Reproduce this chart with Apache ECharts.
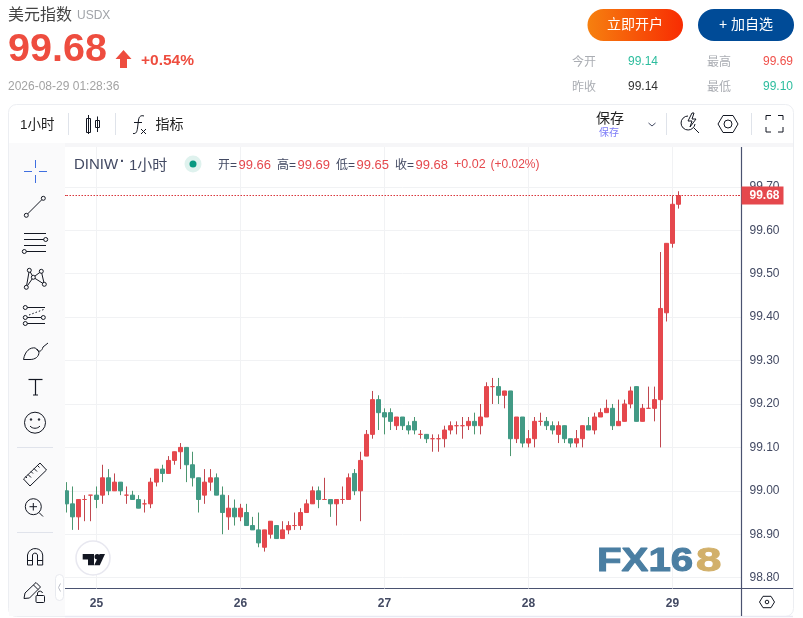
<!DOCTYPE html>
<html><head><meta charset="utf-8"><title>美元指数</title>
<style>html,body{margin:0;padding:0;background:#fff}#c{width:803px;height:618px}</style>
<script src="https://cdn.jsdelivr.net/npm/echarts@6/dist/echarts.min.js"></script></head>
<body><div id="c"></div>
<script>
const opens=[99.00,98.97,98.94,98.98,98.99,98.99,98.99,99.03,99.00,99.02,98.99,98.99,98.98,98.97,98.97,99.02,99.05,99.04,99.07,99.09,99.10,99.06,99.03,98.99,99.02,99.03,98.99,98.94,98.96,98.94,98.95,98.92,98.91,98.87,98.90,98.92,98.89,98.91,98.92,98.92,98.95,98.97,99.00,98.98,98.98,98.97,98.98,98.98,99.04,99.00,99.08,99.13,99.21,99.18,99.18,99.15,99.17,99.15,99.16,99.13,99.13,99.12,99.12,99.12,99.14,99.15,99.15,99.15,99.16,99.15,99.17,99.24,99.24,99.22,99.23,99.12,99.17,99.11,99.12,99.16,99.16,99.15,99.13,99.15,99.12,99.11,99.12,99.15,99.14,99.17,99.18,99.19,99.15,99.16,99.20,99.24,99.16,99.19,99.19,99.21,99.41,99.57,99.66];
const closes=[98.97,98.94,98.98,98.98,98.99,98.98,99.03,99.00,99.02,99.00,98.99,98.98,98.96,98.97,99.02,99.05,99.04,99.07,99.09,99.10,99.06,99.03,98.98,99.02,99.03,98.99,98.95,98.96,98.94,98.96,98.92,98.91,98.88,98.91,98.93,98.89,98.91,98.92,98.92,98.95,98.97,99.00,98.98,98.98,98.97,98.98,98.98,99.03,99.00,99.07,99.13,99.21,99.18,99.17,99.16,99.17,99.15,99.14,99.14,99.13,99.12,99.12,99.12,99.14,99.15,99.15,99.15,99.16,99.15,99.17,99.24,99.24,99.22,99.23,99.12,99.17,99.11,99.12,99.16,99.16,99.15,99.14,99.15,99.12,99.11,99.12,99.15,99.14,99.17,99.18,99.19,99.15,99.16,99.20,99.23,99.16,99.19,99.19,99.21,99.42,99.57,99.66,99.68];
const lows=[98.95,98.91,98.91,98.93,98.93,98.96,98.97,98.99,99.00,98.99,98.97,98.98,98.96,98.95,98.96,99.01,99.02,99.04,99.06,99.05,99.02,99.01,98.95,98.97,99.00,98.99,98.90,98.91,98.92,98.93,98.92,98.91,98.87,98.86,98.89,98.89,98.89,98.90,98.91,98.91,98.95,98.97,98.96,98.98,98.94,98.92,98.97,98.98,98.99,98.93,99.08,99.12,99.14,99.13,99.14,99.14,99.14,99.13,99.13,99.12,99.11,99.09,99.09,99.10,99.13,99.13,99.12,99.14,99.13,99.13,99.17,99.20,99.20,99.19,99.08,99.11,99.10,99.10,99.10,99.15,99.14,99.13,99.11,99.11,99.10,99.10,99.10,99.14,99.13,99.17,99.18,99.14,99.15,99.16,99.19,99.16,99.16,99.19,99.16,99.10,99.39,99.56,99.65];
const highs=[99.02,99.01,98.98,98.99,98.99,99.01,99.06,99.05,99.04,99.02,99.01,99.00,98.99,98.98,99.03,99.05,99.06,99.08,99.09,99.11,99.10,99.09,99.03,99.05,99.05,99.04,99.01,98.99,98.98,98.97,98.97,98.94,98.95,98.91,98.93,98.92,98.93,98.93,98.95,98.96,98.98,99.01,99.01,99.03,98.98,98.98,99.01,99.04,99.05,99.09,99.14,99.23,99.22,99.19,99.19,99.17,99.17,99.16,99.17,99.14,99.13,99.13,99.13,99.15,99.16,99.16,99.17,99.17,99.18,99.20,99.25,99.26,99.26,99.23,99.23,99.17,99.17,99.14,99.17,99.18,99.17,99.16,99.16,99.15,99.12,99.14,99.15,99.17,99.18,99.19,99.21,99.20,99.21,99.21,99.24,99.24,99.20,99.24,99.24,99.55,99.57,99.68,99.69];
const dayLabels=['25','26','27','28','29'];
const dayIndexes=[5,29,53,77,101];
const priceTicks=[98.8,98.9,99.0,99.1,99.2,99.3,99.4,99.5,99.6,99.7];
const lastPrice=99.68;
const categories=Array.from({length:113},(_,i)=>'bar'+i);

const RED='#e5484d',RED_W='#c0474f',GREEN='#429a85',GREEN_W='#4c9670',INK='#131722',SLATE='#434a63',GRID='#f1f2f4';
const LAT='"Liberation Sans","Noto Sans CJK SC",sans-serif';
const Z=20;
const T=(x,y,text,size,fill,o={})=>({type:'text',z:o.z||Z,x,y,silent:true,scaleX:o.sx||1,style:{text,fill,font:`${o.weight||'normal'} ${size}px ${LAT}`,textAlign:o.align||'left',textVerticalAlign:'middle',shadowColor:o.sh,shadowBlur:o.shb||0,shadowOffsetX:o.sho||0,shadowOffsetY:o.sho||0,stroke:o.stroke,lineWidth:o.lw||0}});
const L=(x1,y1,x2,y2,stroke=INK,w=1,o={})=>({type:'line',z:o.z||Z,silent:true,shape:{x1,y1,x2,y2},style:{stroke,lineWidth:w,lineDash:o.dash,lineCap:o.cap||'butt'}});
const C=(cx,cy,r,fill='#fafafb',stroke=INK,w=1)=>({type:'circle',z:Z,silent:true,shape:{cx,cy,r},style:{fill,stroke,lineWidth:w}});
const R=(x,y,w,h,fill,stroke,r=0,lw=1)=>({type:'rect',z:Z,silent:true,shape:{x,y,width:w,height:h,r},style:{fill,stroke,lineWidth:lw}});
let pathCount=0;
const P=(d,stroke=INK,fill='none',w=1)=>{const name='iconPath'+(pathCount++);echarts.graphic.registerShape(name,echarts.graphic.extendPath(d,{}));return {type:name,z:Z,silent:true,style:{stroke,fill,lineWidth:w}};};
const grad=(a,b)=>({type:'linear',x:0,y:0,x2:1,y2:0,colorStops:[{offset:0,color:a},{offset:1,color:b}]});

const chrome=[
 T(8,16,'美元指数',16,'#444'),T(77,16,'USDX',12,'#a0a3a8'),
 T(8,50,'99.68',39.5,'#ee4d3f',{weight:'bold'}),
 P('M123.5,50 L131.5,59 L127,59 L127,68 L120,68 L120,59 L115.5,59 Z','none','#ee4d3f'),
 T(141,60.5,'+0.54%',15.5,'#ee4d3f',{weight:'bold'}),
 T(8,86.5,'2026-08-29 01:28:36',12,'#a3a3a3'),
 R(587.5,9,95.5,32,grad('#f6800f','#f82c02'),null,16),T(635,25,'立即开户',14,'#fff',{align:'center'}),
 R(698,9,96,32,'#004b97',null,16),T(746,25,'+ 加自选',14,'#fff',{align:'center'}),
 T(572,62.5,'今开',12,'#aaadb3'),T(628,62,'99.14',12,'#2dbd9e'),T(707,62.5,'最高',12,'#aaadb3'),T(763,62,'99.69',12,'#f0504a'),
 T(572,87.5,'昨收',12,'#aaadb3'),T(628,87,'99.14',12,'#333'),T(707,87.5,'最低',12,'#aaadb3'),T(763,87,'99.10',12,'#2dbd9e'),
 R(8.5,104.5,785,512,'none','#eceef2',8),
 R(9,143,784,4,'#f6f6f8',null),
 R(9,143,56,473,'#fafafb',null),
 L(65,616.5,793,616.5,'#e9e9f3',1.5),
 T(20,125,'1小时',13.5,'#222'),L(68.5,113,68.5,135,'#dfe3ea'),L(115.5,113,115.5,135,'#dfe3ea'),
 R(86.5,118.5,4,14,'none',INK),L(88.5,115,88.5,134,INK),R(95.5,120.5,4,7,'none',INK),L(97.5,116.5,97.5,132,INK),
 P('M133,133.5 C136,134 137,132 137.5,128 L138.5,120 C139,116.5 141,115 144,116 M134,122.5 H142'),L(141,129,146,134,INK),L(146,129,141,134,INK),
 T(155.5,125,'指标',14,'#222'),
 T(596,119.5,'保存',14,'#222'),T(599,133.5,'保存',10,'#7c7cf8'),
 P('M648.5,123 L652,126 L655.5,123',SLATE),L(666.5,113,666.5,135,'#dfe3ea'),
 P('M688,116 A7,7 0 1 0 695,124 M692,113 L688,121 L692,121 L690,127 L696,119 L692,119 L694,113 Z',INK),L(694,128,699,133,INK),
 P('M718,124 L723,115.5 L733,115.5 L738,124 L733,132.5 L723,132.5 Z'),C(728,124,4,'none'),
 L(751.5,113,751.5,135,'#dfe3ea'),
 P('M766,120 V115.5 H771 M778,115.5 H783 V120 M783,127 V132 H778 M771,132 H766 V127'),
 T(74,165,'DINIW',15,SLATE),T(120,162,'·',14,SLATE,{weight:'bold'}),T(129,165.5,'1小时',15,SLATE),
 C(193,164,8.5,'#dff2ee',null,0),C(193,164,3.5,'#089981',null,0),
 T(218,165.5,'开=',12,SLATE),T(238.5,165,'99.66',13,RED),
 T(277,165.5,'高=',12,SLATE),T(297.5,165,'99.69',13,RED),
 T(336,165.5,'低=',12,SLATE),T(356.5,165,'99.65',13,RED),
 T(395,165.5,'收=',12,SLATE),T(415.5,165,'99.68',13,RED),
 T(454,165,'+0.02',12.5,RED),T(490.5,165,'(+0.02%)',12,RED),
 L(24,171.5,32,171.5,'#3f6fe0'),L(39,171.5,47,171.5,'#3f6fe0'),L(35.5,160,35.5,168,'#3f6fe0'),L(35.5,175,35.5,183,'#3f6fe0'),
 L(27.5,214,42,199.5),C(43.3,198.3,2),C(26.3,215.3,2),
 L(24,233.5,46,233.5),L(24,239.5,44,239.5),L(24,245.5,46,245.5),L(26,251.5,46,251.5),C(45.7,239.5,2),C(24.3,251.5,2),
 P('M29.3,270.3 L33.3,277.3 L41.3,271.3 L44.3,284.3 L33.3,277.3 L26.3,287.3 L29.3,270.3'),C(29.3,270.3,2),C(41.3,271.3,2),C(33.3,277.3,2),C(44.3,284.3,2),C(26.3,287.3,2),
 L(27,307.5,45,307.5),L(27,317.5,41,317.5),L(27,323.5,45,323.5),L(29,315,45,309,INK,1,{dash:[1.5,2]}),C(25.3,307.5,2),C(25.3,317.5,2),C(25.3,323.5,2),C(43.3,317.5,2),
 P('M23.5,359.5 C25,351 30,347 35.5,348 L39,352 C39,357 35,359.5 30,359.5 H23.5 M37,349 C39,353 42,351 43,347 L48,343'),
 L(28.5,379.5,42.5,379.5,INK,1.2),L(35.5,379.5,35.5,395,INK,1.2),L(33,395,38,395),
 C(35,422.7,10.5,'none'),C(31,419.5,.9,INK,INK,.5),C(39,419.5,.9,INK,INK,.5),P('M30,426 C32.5,429 37.5,429 40,426'),
 L(17,447.5,53,447.5,'#e0e3eb'),
 P('M23.5,479 L40,463 L46.5,470 L30,486 Z M28,474.5 L31,477.5 M31,471.5 L33,473.5 M34,468.5 L37,471.5 M37.5,465.5 L39.5,467.5 M25.5,476.5 L27,478'),
 C(33.3,506.7,8,'none'),L(39,512.5,43,516.5),L(29.5,506.7,37,506.7),L(33.3,503,33.3,510.5),
 L(17,532.5,53,532.5,'#e0e3eb'),
 P('M27.5,565 V555 A7.7,7.7 0 0 1 42.7,555 V565 H37.5 V555 A2.6,2.6 0 0 0 32.5,555 V565 Z M27.5,560.5 H32.5 M37.5,560.5 H42.7'),
 P('M24,598.5 L25,593 L36,582.5 L40.5,587 L29.5,598 Z M33.5,585 L38,589.5'),R(36,595.5,8.5,7,'#fafafb',INK,1),P('M37.5,595.5 V593 A2.6,2.6 0 0 1 42.5,593'),
 R(55.5,574.5,8,26,'#fff','#e8eaef',4),P('M60.5,583.5 L58.5,587.5 L60.5,591.5','#b9bcc6'),
 C(93,558,17,'#fff','#e8e8f0',1.5),
 P('M82.7,554 H94 V565.3 H88 V559.5 H82.7 Z','none',INK),C(97.2,556.7,2.7,INK,null,0),P('M105,554 L99.8,565.3 H94.2 L99.6,554 Z','none',INK),
 T(597,561.5,'FX16',33,'#4a7ea2',{weight:'bold',sx:1.22,stroke:'#4a7ea2',lw:1,sh:'rgba(30,50,70,.5)',shb:1,sho:.5}),
 T(696,561.5,'8',33,'#d2b06a',{weight:'bold',sx:1.38,stroke:'#d2b06a',lw:1,sh:'rgba(60,45,15,.6)',shb:1,sho:.5}),
 L(65,195.5,68,195.5,'#d9363c',1,{dash:[1.5,1.5]}),L(738,195.5,741,195.5,'#d9363c',1,{dash:[1.5,1.5]}),
 L(741.5,588,741.5,616,'#4a5270',1.2),L(741,588.5,793,588.5,'#4a5270',1.2),
 P('M759.5,602 L763,596.3 L771,596.3 L774.5,602 L771,607.7 L763,607.7 Z',INK),C(767,602,1.8,'none'),
];

const chart=echarts.init(document.getElementById('c'),null,{renderer:'canvas'});
chart.setOption({
 animation:false,backgroundColor:'#fff',
 grid:{left:63.5,right:61.5,top:147,bottom:29.5,containLabel:false},
 tooltip:{show:false},
 xAxis:{type:'category',data:categories,boundaryGap:true,
  axisLine:{show:true,lineStyle:{color:'#4a5270',width:1.2}},
  axisTick:{show:false},
  splitLine:{show:false},
  axisLabel:{interval:(i)=>dayIndexes.includes(i),formatter:(v,i)=>{const k=dayIndexes.indexOf(i);return k<0?'':dayLabels[k];},color:SLATE,fontSize:12,fontWeight:'bold',fontFamily:'"Liberation Sans",sans-serif',margin:9}},
 yAxis:{type:'value',position:'right',min:98.775,max:99.7919,scale:true,
  axisLine:{show:true,onZero:false,lineStyle:{color:'#4a5270',width:1.2}},
  axisTick:{show:false,customValues:priceTicks},
  splitLine:{show:true,lineStyle:{color:GRID,width:1}},
  axisLabel:{customValues:priceTicks,formatter:v=>v.toFixed(2),color:SLATE,fontSize:12,fontFamily:'"Liberation Sans",sans-serif',margin:8,align:'left'}},
 series:[
  {name:'wicks',type:'candlestick',barWidth:1,z:2,clip:true,silent:true,
   data:opens.map((o,i)=>[o,closes[i],lows[i],highs[i]]),
   itemStyle:{color:RED_W,color0:GREEN_W,borderColor:RED_W,borderColor0:GREEN_W,borderColorDoji:RED_W,borderWidth:1},
   markLine:{silent:true,symbol:'none',animation:false,z:1,label:{show:false},lineStyle:{color:GRID,type:'solid',width:1},
    data:dayIndexes.map(i=>({xAxis:categories[i]}))}},
  {name:'USDX',type:'candlestick',barWidth:4,z:3,clip:true,silent:true,
   data:opens.map((o,i)=>[o,closes[i],Math.min(o,closes[i]),Math.max(o,closes[i])]),
   itemStyle:{color:RED,color0:GREEN,borderColor:RED,borderColor0:GREEN,borderColorDoji:RED,borderWidth:1},
   markLine:{silent:true,symbol:'none',animation:false,z:4,precision:2,
    lineStyle:{color:'#d9363c',type:[1.5,1.5],width:1},
    label:{show:true,position:'end',distance:0,formatter:p=>p.value.toFixed(2),color:'#fff',backgroundColor:RED,fontWeight:'bold',fontSize:12,fontFamily:'"Liberation Sans",sans-serif',padding:[3,5,3,8],width:29,borderRadius:0},
    data:[{yAxis:lastPrice}]}}
 ],
 graphic:{elements:chrome}
});
</script></body></html>
